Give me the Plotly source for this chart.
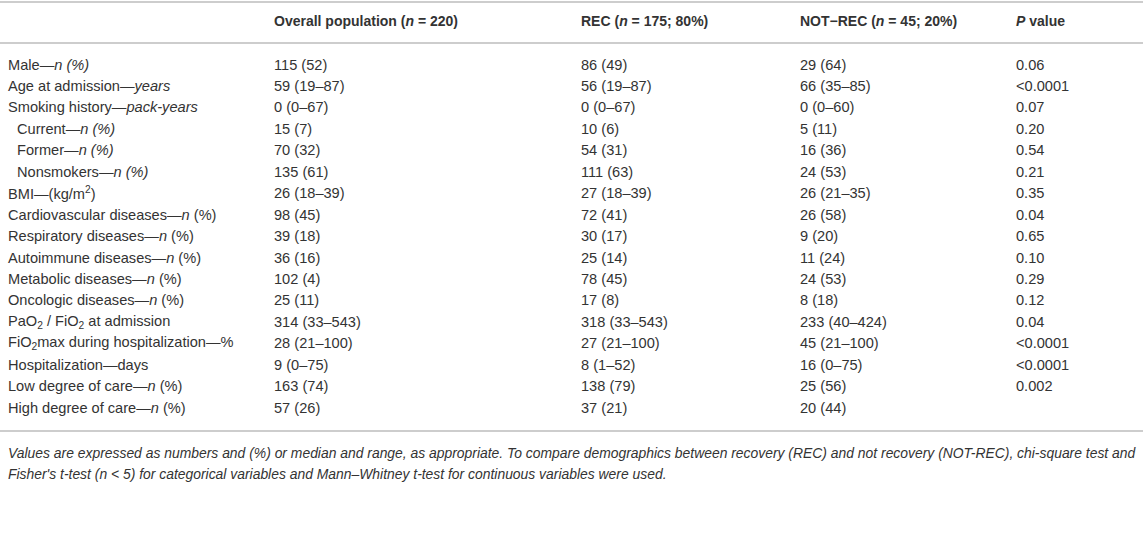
import plotly.graph_objects as go

# table content
headers = [
    "",
    "<b>Overall population (<i>n</i> = 220)</b>",
    "<b>REC (<i>n</i> = 175; 80%)</b>",
    "<b>NOT−REC (<i>n</i> = 45; 20%)</b>",
    "<b><i>P</i> value</b>",
]

labels = [
    "Male—<i>n (%)</i>",
    "Age at admission—<i>years</i>",
    "Smoking history—<i>pack-years</i>",
    "   Current—<i>n (%)</i>",
    "   Former—<i>n (%)</i>",
    "   Nonsmokers—<i>n (%)</i>",
    "BMI—(kg/m<sup>2</sup>)",
    "Cardiovascular diseases—<i>n</i> (%)",
    "Respiratory diseases—<i>n</i> (%)",
    "Autoimmune diseases—<i>n</i> (%)",
    "Metabolic diseases—<i>n</i> (%)",
    "Oncologic diseases—<i>n</i> (%)",
    "PaO<sub>2</sub> / FiO<sub>2</sub> at admission",
    "FiO<sub>2</sub>max during hospitalization—%",
    "Hospitalization—days",
    "Low degree of care—<i>n</i> (%)",
    "High degree of care—<i>n</i> (%)",
]

overall = [
    "115 (52)", "59 (19–87)", "0 (0–67)", "15 (7)", "70 (32)", "135 (61)",
    "26 (18–39)", "98 (45)", "39 (18)", "36 (16)", "102 (4)", "25 (11)",
    "314 (33–543)", "28 (21–100)", "9 (0–75)", "163 (74)", "57 (26)",
]

rec = [
    "86 (49)", "56 (19–87)", "0 (0–67)", "10 (6)", "54 (31)", "111 (63)",
    "27 (18–39)", "72 (41)", "30 (17)", "25 (14)", "78 (45)", "17 (8)",
    "318 (33–543)", "27 (21–100)", "8 (1–52)", "138 (79)", "37 (21)",
]

not_rec = [
    "29 (64)", "66 (35–85)", "0 (0–60)", "5 (11)", "16 (36)", "24 (53)",
    "26 (21–35)", "26 (58)", "9 (20)", "11 (24)", "24 (53)", "8 (18)",
    "233 (40–424)", "45 (21–100)", "16 (0–75)", "25 (56)", "20 (44)",
]

p_values = [
    "0.06", "<0.0001", "0.07", "0.20", "0.54", "0.21",
    "0.35", "0.04", "0.65", "0.10", "0.29", "0.12",
    "0.04", "<0.0001", "<0.0001", "0.002", "",
]

footnote = [
    "Values are expressed as numbers and (%) or median and range, as appropriate. "
    "To compare demographics between recovery (REC) and not recovery (NOT-REC), chi-square test and",
    "Fisher's t-test (n < 5) for categorical variables and Mann–Whitney t-test for continuous variables were used.",
]

W, H = 1143, 557
col_x = [7, 273, 580, 799, 1015]
row0, row_h = 64.5, 21.45
txt = "#333333"
rule = "#bdbdbd"
font_family = "Liberation Sans, Arial, sans-serif"

fig = go.Figure()
anns = []


def esc(s):
    return s.replace("<0", "&lt;0").replace("n < 5", "n &lt; 5")


for j, h in enumerate(headers):
    if h:
        anns.append(dict(x=col_x[j], y=21, text=h, font=dict(size=14)))

columns = [labels, overall, rec, not_rec, p_values]
for j, col in enumerate(columns):
    for i, val in enumerate(col):
        if not val:
            continue
        x = col_x[j]
        if j == 0 and val.startswith("   "):
            x += 9
            val = val.strip()
        anns.append(dict(x=x, y=row0 + i * row_h, text=esc(val), font=dict(size=14.6)))

for k, line in enumerate(footnote):
    anns.append(dict(x=col_x[0], y=452.5 + k * 21, text="<i>" + esc(line) + "</i>", font=dict(size=13.9)))

for a in anns:
    a.update(xref="x", yref="y", xanchor="left", yanchor="middle", showarrow=False, borderpad=0,
             font=dict(family=font_family, color=txt, **a["font"]))

shapes = [
    dict(type="line", xref="x", yref="y", x0=0, x1=W, y0=y, y1=y, line=dict(color=rule, width=1.5))
    for y in (2, 43, 431)
]

fig.update_layout(
    width=W, height=H,
    margin=dict(l=0, r=0, t=0, b=0),
    paper_bgcolor="white", plot_bgcolor="white",
    xaxis=dict(range=[0, W], visible=False, fixedrange=True),
    yaxis=dict(range=[H, 0], visible=False, fixedrange=True),
    annotations=anns, shapes=shapes, showlegend=False,
)

fig.write_html("out.html", config={"displayModeBar": False},
               post_script="document.body.style.margin='0';document.body.style.overflow='hidden';")
